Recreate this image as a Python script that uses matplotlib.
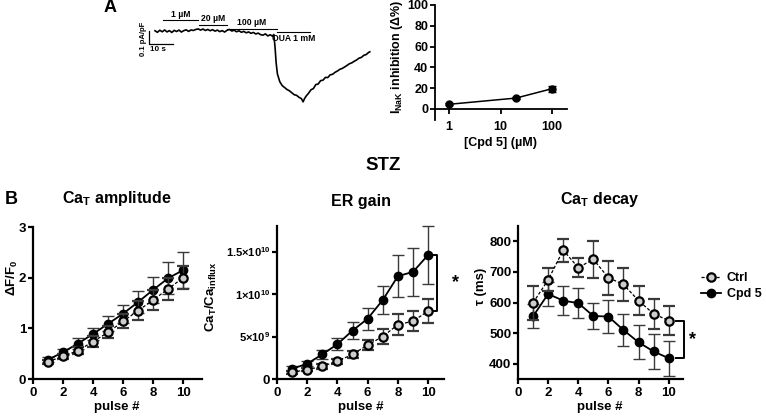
import matplotlib
matplotlib.use("Agg")
import matplotlib.pyplot as plt
from matplotlib.lines import Line2D
import numpy as np

plt.rcParams['font.family'] = ['Liberation Sans', 'DejaVu Sans']
plt.rcParams['font.weight'] = 'bold'
plt.rcParams['axes.labelweight'] = 'bold'
plt.rcParams['mathtext.fontset'] = 'custom'
plt.rcParams['mathtext.rm'] = 'Liberation Sans:bold'
plt.rcParams['mathtext.it'] = 'Liberation Sans:bold'
plt.rcParams['mathtext.bf'] = 'Liberation Sans:bold'
plt.rcParams['mathtext.default'] = 'rm'

# ---------------- data ----------------
# Panel A trace: time (s), current (pA/pF)
trace_t = [2.5, 3.5, 4.5, 5.5, 6.5, 7.5, 8.5, 9.5, 10.5, 11.5, 12.5, 13.5, 14.5, 15.5, 16.5, 17.5, 18.5, 19.5,
           20.5, 21.5, 22.5, 23.5, 24.5, 25.5, 26.5, 27.5, 28.5, 29.5, 30.5, 31.5, 32.5,
           33.5, 34.5, 35.5, 36.5, 37.5, 38.5, 39.5, 40.5, 41.5, 42.5, 43.5, 44.5, 45.5, 46.5, 47.5, 48.5,
           49.5, 50.5, 51.5, 52.0,
           52.5, 53.0, 53.5, 54.5, 55.5, 56.5, 57.5, 58.5, 59.5, 60.5, 61.5, 62.5, 63.5, 64.2, 64.8,
           65.5, 66.5, 67.5, 68.5, 69.5, 70.5, 71.5, 72.5, 73.5, 74.5, 75.5, 76.5, 77.5, 78.5, 79.5,
           80.5, 81.5, 82.5, 83.5, 84.5, 85.5, 86.5, 87.5, 88.5, 89.5, 90.5, 91.5, 92.0]
trace_i = [0.002, -0.010, 0.006, -0.006, 0.008, -0.007, 0.003, -0.011, 0.005, -0.004, 0.007, -0.008, 0.003,
           0.009, -0.003, 0.008, 0.004, 0.012,
           0.016, 0.007, 0.015, 0.004, 0.012, 0.002, 0.010, -0.001, 0.007, -0.005, 0.003, -0.008, 0.005,
           0.012, 0.000, 0.006, -0.006, 0.002, -0.010, -0.003, -0.014, -0.007, -0.018, -0.011, -0.023,
           -0.016, -0.028, -0.032, -0.022, -0.038, -0.029, -0.040, -0.027,
           -0.12, -0.25, -0.33, -0.39, -0.42, -0.435, -0.45, -0.46, -0.475, -0.49, -0.495, -0.51, -0.52,
           -0.545, -0.52,
           -0.50, -0.478, -0.452, -0.443, -0.412, -0.408, -0.382, -0.378, -0.357, -0.358, -0.337, -0.333,
           -0.318, -0.308, -0.295, -0.288, -0.277, -0.265, -0.252, -0.245, -0.233, -0.223, -0.209, -0.203,
           -0.187, -0.181, -0.165, -0.160]

# Application periods (s) and labels
app_labels = ['1 µM', '20 µM', '100 µM', 'OUA 1 mM']
app_start = [5.8, 20.8, 32.5, 53.3]
app_end = [20.4, 32.5, 53.3, 67.0]

# Panel A inset: dose response
cpd_conc = [1, 20, 100]
inhib = [4.5, 10.5, 19.5]
inhib_err = [0.8, 1.0, 3.0]

# Panel B
pulse = [1, 2, 3, 4, 5, 6, 7, 8, 9, 10]
amp_ctrl = [0.34, 0.45, 0.56, 0.74, 0.92, 1.14, 1.35, 1.56, 1.78, 2.00]
amp_ctrl_err = [0.04, 0.05, 0.07, 0.10, 0.12, 0.14, 0.18, 0.20, 0.22, 0.23]
amp_cpd = [0.38, 0.53, 0.70, 0.89, 1.09, 1.29, 1.52, 1.76, 1.99, 2.15]
amp_cpd_err = [0.05, 0.06, 0.10, 0.12, 0.15, 0.18, 0.21, 0.26, 0.31, 0.35]

er_ctrl = [0.8e9, 1.1e9, 1.5e9, 2.1e9, 2.9e9, 4.0e9, 5.0e9, 6.4e9, 6.8e9, 8.0e9]
er_ctrl_err = [0.2e9, 0.2e9, 0.3e9, 0.3e9, 0.4e9, 0.6e9, 0.9e9, 1.2e9, 1.2e9, 1.4e9]
er_cpd = [1.2e9, 1.8e9, 2.9e9, 4.1e9, 5.7e9, 7.1e9, 9.3e9, 12.1e9, 12.6e9, 14.6e9]
er_cpd_err = [0.3e9, 0.3e9, 0.5e9, 0.7e9, 1.0e9, 1.3e9, 1.7e9, 2.5e9, 2.8e9, 3.4e9]

tau_ctrl = [599, 674, 771, 714, 741, 681, 659, 606, 563, 541]
tau_ctrl_err = [55, 38, 38, 31, 61, 56, 53, 48, 50, 48]
tau_cpd = [555, 628, 606, 598, 556, 554, 510, 470, 440, 418]
tau_cpd_err = [39, 39, 48, 49, 41, 55, 53, 55, 56, 57]

# ---------------- figure ----------------
W, H = 766, 419
fig = plt.figure(figsize=(W / 100, H / 100), dpi=100)
fig.patch.set_facecolor('white')


def ax_px(l, t, r, b):
    return fig.add_axes([l / W, 1 - b / H, (r - l) / W, (b - t) / H])


def fx(x):
    return x / W


def fy(y):
    return 1 - y / H


# ---- Panel A: trace ----
axt = ax_px(140, 0, 380, 110)
axt.set_xlim(-3.75, 96.25)
axt.set_ylim(-0.6077, 0.2385)
axt.axis('off')
axt.plot(trace_t, trace_i, color='black', lw=1.2)
bar_y = [0.081, 0.050, 0.019, -0.004]
lab_y = [0.127, 0.096, 0.065, -0.058]
for s, e, lab, by, ly in zip(app_start, app_end, app_labels, bar_y, lab_y):
    axt.plot([s, e], [by, by], color='black', lw=0.8)
    axt.text((s + e) / 2, ly, lab, ha='center', va='center', fontsize=6.2, fontweight='bold')
# scale bars
axt.plot([0, 0, 10], [0.0, -0.1, -0.1], color='black', lw=0.9)
axt.text(-2.2, -0.06, '0.1 pA/pF', rotation=90, ha='center', va='center', fontsize=5.5,
         fontweight='bold')
axt.text(0.5, -0.145, '10 s', ha='left', va='center', fontsize=5.8, fontweight='bold')

fig.text(fx(110), fy(8), 'A', fontsize=13, fontweight='bold', ha='center', va='center')

# ---- Panel A inset ----
axi = ax_px(435, 5, 567, 120)
axi.set_xscale('log')
axi.set_xlim(0.535, 195)
axi.set_ylim(-10.6, 100)
axi.spines['top'].set_visible(False)
axi.spines['right'].set_visible(False)
axi.spines['bottom'].set_position(('data', 0))
for sp in ['left', 'bottom']:
    axi.spines[sp].set_linewidth(1.3)
axi.set_xticks([1, 10, 100])
axi.set_xticklabels(['1', '10', '100'])
axi.xaxis.set_minor_locator(matplotlib.ticker.NullLocator())
axi.set_yticks([0, 20, 40, 60, 80, 100])
axi.tick_params(axis='both', length=3.5, width=1.3, labelsize=9, pad=1.5)
axi.tick_params(axis='x', pad=5)
axi.errorbar(cpd_conc, inhib, yerr=inhib_err, color='black', marker='o', ms=5, lw=1.1,
             elinewidth=1.0, capsize=3, capthick=1.0, clip_on=False)
fig.text(fx(397), fy(57), r'I$_{NaK}$ inhibition (Δ%)', rotation=90, ha='center', va='center',
         fontsize=9, fontweight='bold')
fig.text(fx(501), fy(143), '[Cpd 5] (µM)', ha='center', va='center', fontsize=9, fontweight='bold')

# ---- STZ / B ----
fig.text(fx(383), fy(165), 'STZ', ha='center', va='center', fontsize=13.5, fontweight='bold')
fig.text(fx(11), fy(199), 'B', ha='center', va='center', fontsize=13, fontweight='bold')

ctrl_style = dict(color='black', ls=(0, (2.5, 1.5)), lw=0.9, marker='o', ms=6, mfc='#cdcdcd',
                  mec='black', mew=1.6)
cpd_style = dict(color='black', ls='-', lw=1.3, marker='o', ms=6, mfc='black', mec='black')
err_kw = dict(ecolor='#3a3a3a', elinewidth=1.0, capsize=4.2, capthick=1.0)


def style_ax(ax):
    ax.spines['top'].set_visible(False)
    ax.spines['right'].set_visible(False)
    for sp in ['left', 'bottom']:
        ax.spines[sp].set_linewidth(1.6)
    ax.tick_params(axis='both', length=3.6, width=1.6, labelsize=9.5)
    ax.tick_params(axis='y', pad=1.2)
    ax.tick_params(axis='x', pad=2.5)
    ax.set_xticks([0, 2, 4, 6, 8, 10])


def draw_series(ax, yc, yce, yp, ype):
    ax.errorbar(pulse, yp, yerr=ype, zorder=3, clip_on=False, **cpd_style, **err_kw)
    ax.errorbar(pulse, yc, yerr=yce, zorder=4, clip_on=False, **ctrl_style, **err_kw)


# Panel B1
ax1 = ax_px(33, 227, 202, 379)
style_ax(ax1)
ax1.set_xlim(0, 11.25)
ax1.set_ylim(0, 3)
ax1.set_yticks([0, 1, 2, 3])
draw_series(ax1, amp_ctrl, amp_ctrl_err, amp_cpd, amp_cpd_err)
fig.text(fx(117), fy(198), r'Ca$_T$ amplitude', ha='center', va='center', fontsize=11.5,
         fontweight='bold')
fig.text(fx(12), fy(278), r'ΔF/F$_0$', rotation=90, ha='center', va='center', fontsize=9.5,
         fontweight='bold')
fig.text(fx(117), fy(407), 'pulse #', ha='center', va='center', fontsize=9.5, fontweight='bold')

# Panel B2
ax2 = ax_px(277, 226, 444, 379)
style_ax(ax2)
ax2.set_xlim(0, 11.05)
ax2.set_ylim(0, 1.8e10)
ax2.set_yticks([0, 5e9, 1e10, 1.5e10])
ax2.set_yticklabels(['0', r'$5{\times}10^{9}$', r'$1{\times}10^{10}$', r'$1.5{\times}10^{10}$'],
                    fontsize=8)
ax2.get_yticklabels()[0].set_fontsize(9.5)
draw_series(ax2, er_ctrl, er_ctrl_err, er_cpd, er_cpd_err)
fig.text(fx(361), fy(201), 'ER gain', ha='center', va='center', fontsize=11.5, fontweight='bold')
fig.text(fx(211), fy(297), r'Ca$_T$/Ca$_{influx}$', rotation=90, ha='center', va='center',
         fontsize=9.5, fontweight='bold')
fig.text(fx(361), fy(407), 'pulse #', ha='center', va='center', fontsize=9.5, fontweight='bold')
ax2.plot([10.25, 10.6, 10.6, 10.25], [er_cpd[-1], er_cpd[-1], er_ctrl[-1], er_ctrl[-1]],
         color='black', lw=1.4, clip_on=False)
ax2.text(11.8, (er_cpd[-1] + er_ctrl[-1]) / 2, '*', ha='center', va='center', fontsize=13,
         fontweight='bold')

# Panel B3
ax3 = ax_px(518, 226, 683, 379)
style_ax(ax3)
ax3.set_xlim(0, 10.95)
ax3.set_ylim(350, 850)
ax3.set_yticks([400, 500, 600, 700, 800])
draw_series(ax3, tau_ctrl, tau_ctrl_err, tau_cpd, tau_cpd_err)
fig.text(fx(600), fy(199), r'Ca$_T$ decay', ha='center', va='center', fontsize=11.5,
         fontweight='bold')
fig.text(fx(481), fy(286), 'τ (ms)', rotation=90, ha='center', va='center', fontsize=9.5,
         fontweight='bold')
fig.text(fx(600), fy(407), 'pulse #', ha='center', va='center', fontsize=9.5, fontweight='bold')
ax3.plot([10.5, 11.0, 11.0, 10.5], [tau_ctrl[-1], tau_ctrl[-1], tau_cpd[-1], tau_cpd[-1]],
         color='black', lw=1.4, clip_on=False)
ax3.text(11.6, (tau_ctrl[-1] + tau_cpd[-1]) / 2, '*', ha='center', va='center', fontsize=13,
         fontweight='bold')

# Legend
h_ctrl = Line2D([], [], **ctrl_style)
h_cpd = Line2D([], [], **cpd_style)
fig.legend([h_ctrl, h_cpd], ['Ctrl', 'Cpd 5'], loc='center left',
           bbox_to_anchor=(fx(701), fy(286)), bbox_transform=fig.transFigure, frameon=False,
           fontsize=9, handlelength=1.6, handletextpad=0.45, labelspacing=0.3, borderpad=0,
           borderaxespad=0)

fig.savefig('out.png', dpi=100, facecolor='white')
